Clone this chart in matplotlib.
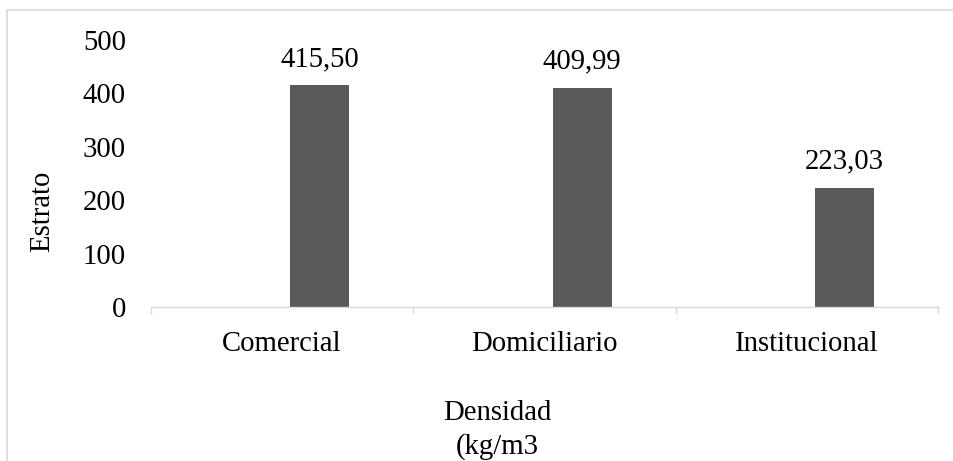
import matplotlib
matplotlib.use("Agg")
import matplotlib.pyplot as plt
from matplotlib.lines import Line2D

plt.rcParams['font.family'] = ['Liberation Serif', 'DejaVu Serif']

# datos de densidad por estrato
categorias = ["Comercial", "Domiciliario", "Institucional"]
densidad = [415.50, 409.99, 223.03]
etiquetas = ["415,50", "409,99", "223,03"]

gris_barra = "#595959"
gris_linea = "#d9d9d9"
fs = 20.7

fig = plt.figure(figsize=(9.54, 4.61), dpi=100)
ax = fig.add_axes([151 / 954, 1 - 307 / 461, (938 - 151) / 954, (307 - 40) / 461])

x = list(range(len(categorias)))
desplazamiento = 0.143
ancho = 0.225
barras = ax.bar([i + desplazamiento for i in x], densidad, width=ancho, color=gris_barra)

for b, txt in zip(barras, etiquetas):
    ax.annotate(txt, (b.get_x() + b.get_width() / 2, b.get_height()),
                xytext=(0, 9.5), textcoords="offset points",
                ha="center", va="bottom", fontsize=fs)

ax.set_xlim(-0.5, len(categorias) - 0.5)
ax.set_ylim(0, 500)
ax.set_yticks([0, 100, 200, 300, 400, 500])
ax.set_xticks(x)
ax.set_xticklabels(categorias)
ax.set_xticks([i - 0.5 for i in range(len(categorias) + 1)], minor=True)
ax.tick_params(axis="x", which="major", length=0, pad=17, labelsize=fs)
ax.tick_params(axis="x", which="minor", length=5, color=gris_linea, width=1)
ax.tick_params(axis="y", length=0, pad=18, labelsize=fs)

for s in ["top", "right", "left"]:
    ax.spines[s].set_visible(False)
ax.spines["bottom"].set_color(gris_linea)
ax.spines["bottom"].set_linewidth(1)

# titulos de los ejes
fig.text(42 / 954, 1 - 211 / 461, "Estrato", rotation=90, ha="center", va="center", fontsize=fs)
fig.text(497 / 954, 1 - 413 / 461, "Densidad", ha="center", va="center", fontsize=fs)
fig.text(497 / 954, 1 - 447 / 461, "(kg/m3", ha="center", va="center", fontsize=fs)

# borde del area del grafico
fig.add_artist(Line2D([7 / 954, 1.0], [1 - 10 / 461, 1 - 10 / 461], color=gris_linea, lw=1.2, transform=fig.transFigure))
fig.add_artist(Line2D([7 / 954, 7 / 954], [0.0, 1 - 10 / 461], color=gris_linea, lw=1.2, transform=fig.transFigure))

fig.savefig("out.png", dpi=100)
